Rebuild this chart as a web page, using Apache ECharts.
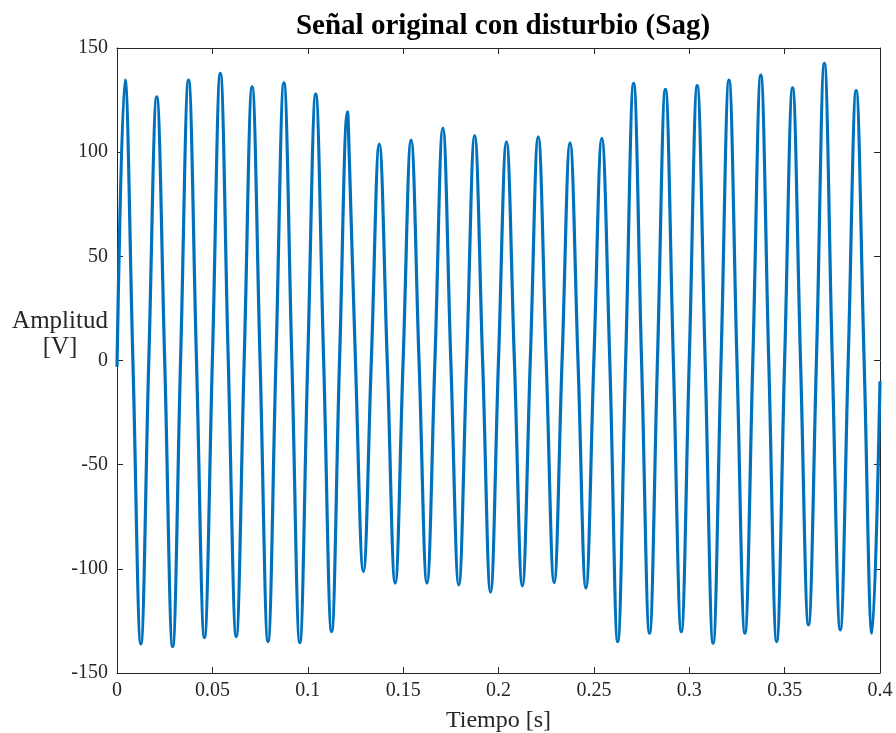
<!DOCTYPE html>
<html>
<head>
<meta charset="utf-8">
<script src="https://cdn.jsdelivr.net/npm/echarts@6/dist/echarts.min.js"></script>
<style>
  html, body { margin: 0; padding: 0; background: #fff; }
  #main { width: 896px; height: 733px; }
</style>
</head>
<body>
<div id="main"></div>
<script>
// 标题与坐标轴
var titulo = 'Señal original con disturbio (Sag)';
var ejeX = 'Tiempo [s]';
var ejeY = 'Amplitud\n[V]';

// 刻度
var xTicks = [0, 0.05, 0.1, 0.15, 0.2, 0.25, 0.3, 0.35, 0.4];
var yTicks = [-150, -100, -50, 0, 50, 100, 150];

// 采样点：过零点、波峰、波谷
var tiempo = [
  0, 0.00417, 0.00833, 0.0125, 0.01667, 0.02083, 0.025, 0.02917, 0.03333, 0.0375,
  0.04167, 0.04583, 0.05, 0.05417, 0.05833, 0.0625, 0.06667, 0.07083, 0.075, 0.07917,
  0.08333, 0.0875, 0.09167, 0.09583, 0.1, 0.10417, 0.10833, 0.1125, 0.11667, 0.12083,
  0.1218, 0.125, 0.12917, 0.13333, 0.1375, 0.14167, 0.14583, 0.15, 0.15417, 0.15833,
  0.1625, 0.16667, 0.17083, 0.175, 0.17917, 0.18333, 0.1875, 0.19167, 0.19583, 0.2,
  0.20417, 0.20833, 0.2125, 0.21667, 0.22083, 0.225, 0.22917, 0.23333, 0.2375, 0.24167,
  0.24583, 0.25, 0.25417, 0.25833, 0.2625, 0.26667, 0.27083, 0.275, 0.27917, 0.28333,
  0.2875, 0.29167, 0.29583, 0.3, 0.30417, 0.30833, 0.3125, 0.31667, 0.32083, 0.325,
  0.32917, 0.33333, 0.3375, 0.34167, 0.34583, 0.35, 0.35417, 0.35833, 0.3625, 0.36667,
  0.37083, 0.375, 0.37917, 0.38333, 0.3875, 0.39167, 0.39583, 0.4
];
var amplitud = [
  -3, 134.6, 0, -136, 0, 126.6, 0, -137.3, 0, 134.6,
  0, -133, 0, 137.8, 0, -132.5, 0, 131.4, 0, -134.9,
  0, 133.3, 0, -135.4, 0, 127.9, 0, -130.1, 0, 119.4,
  97, 0, -101.3, 0, 103.9, 0, -106.9, 0, 105.8, 0,
  -106.9, 0, 111.6, 0, -107.7, 0, 107.9, 0, -111.2, 0,
  105, 0, -108.2, 0, 107.4, 0, -106.6, 0, 104.5, 0,
  -109.3, 0, 106.6, 0, -134.9, 0, 133, 0, -130.9, 0,
  130.1, 0, -130.1, 0, 131.9, 0, -135.7, 0, 134.6, 0,
  -130.9, 0, 137, 0, -134.9, 0, 130.9, 0, -126.9, 0,
  142.6, 0, -129.3, 0, 129.5, 0, -130.9, -10
];

var axisColor = '#262626';
var fuente = '"Liberation Serif", "Times New Roman", serif';

var myChart = echarts.init(document.getElementById('main'));

var puntos = tiempo.map(function (t, i) { return [t, amplitud[i]]; });

function ejeBase(extra) {
  var base = {
    type: 'value',
    splitLine: { show: false },
    axisLine: { show: true, onZero: false, lineStyle: { color: axisColor, width: 1 } },
    axisTick: { show: true, inside: true, length: 6, lineStyle: { color: axisColor } },
    axisLabel: { color: axisColor, fontFamily: fuente, fontSize: 20 }
  };
  return Object.assign(base, extra);
}

var option = {
  animation: false,
  backgroundColor: '#fff',
  title: {
    text: titulo,
    left: 498,
    textAlign: 'center',
    top: 7,
    textStyle: { fontFamily: fuente, fontWeight: 'bold', fontSize: 29, color: '#000' }
  },
  // y 轴标题（水平放置）
  graphic: [{
    type: 'text',
    x: 60,
    y: 334,
    style: {
      text: ejeY,
      fill: axisColor,
      font: '25px ' + fuente,
      lineHeight: 26,
      align: 'center',
      verticalAlign: 'middle'
    }
  }],
  grid: { left: 117, right: 16, top: 48, bottom: 60, outerBoundsMode: 'none', containLabel: false },
  xAxis: [
    ejeBase({
      position: 'bottom',
      min: xTicks[0], max: xTicks[xTicks.length - 1], interval: 0.05,
      name: ejeX, nameLocation: 'middle', nameGap: 36,
      nameTextStyle: { color: axisColor, fontFamily: fuente, fontSize: 24 },
      axisLabel: { color: axisColor, fontFamily: fuente, fontSize: 20, margin: 8 }
    }),
    ejeBase({
      position: 'top',
      min: xTicks[0], max: xTicks[xTicks.length - 1], interval: 0.05,
      axisLabel: { show: false }
    })
  ],
  yAxis: [
    ejeBase({
      position: 'left',
      min: yTicks[0], max: yTicks[yTicks.length - 1], interval: 50,
      axisLabel: { color: axisColor, fontFamily: fuente, fontSize: 20, margin: 9 }
    }),
    ejeBase({
      position: 'right',
      min: yTicks[0], max: yTicks[yTicks.length - 1], interval: 50,
      axisLabel: { show: false }
    })
  ],
  series: [{
    type: 'line',
    data: puntos,
    smooth: 0.4,
    showSymbol: false,
    lineStyle: { color: '#0072BD', width: 3.2 },
    clip: true
  }]
};

myChart.setOption(option);
</script>
</body>
</html>
